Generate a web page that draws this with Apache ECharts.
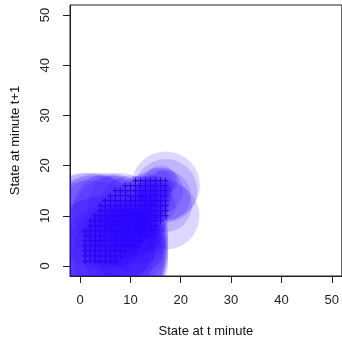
<!DOCTYPE html>
<html>
<head>
<meta charset="utf-8">
<script src="https://cdn.jsdelivr.net/npm/echarts@6/dist/echarts.min.js"></script>
<style>
html,body{margin:0;padding:0;background:#fff;}
#chart{width:342px;height:347px;}
</style>
</head>
<body>
<div id="chart"></div>
<script>
// Tick labels
const xTicks = [0, 10, 20, 30, 40, 50];
const yTicks = [0, 10, 20, 30, 40, 50];

// "+" markers: for each state at t (column), the range of states at t+1
const plusX    = [1, 2, 3, 4, 5, 6, 7, 8, 9, 10, 11, 12, 13, 14, 15, 16, 17];
const plusYMin = [1, 1, 1, 1, 1, 1, 1, 2, 3, 4, 4, 5, 6, 7, 8, 9, 10];
const plusYMax = [7, 9, 10, 12, 13, 14, 15, 15, 16, 16, 17, 17, 17, 17, 17, 17, 17];

// Circles (centre x, centre y, radius in data units)
const circleX = [1, 2, 4, 6, 8, 3, 2, 5, 7, 10, 12, 14,
                 7, 8, 9, 10, 11, 12, 13, 6, 5, 4, 9, 11, 13, 14, 15,
                 17, 17, 17, 16, 17, 15, 17, 16, 17,
                 15, 14, 16, 13, 16, 12];
const circleY = [7, 8, 9, 11, 12, 6, 4, 7, 9, 12, 13, 15,
                 1, 2, 3, 4, 5, 6, 7, 1, 2, 1, 5, 8, 10, 9, 12,
                 16, 15, 10, 15, 14, 16, 12, 17, 17,
                 15, 13, 12, 16, 14, 15];
const circleR = [11.5, 10.5, 9.5, 7.5, 6.5, 12, 13, 11, 9, 6, 5, 3,
                 10.5, 9.5, 8.5, 7.5, 6.5, 5.5, 4.5, 11, 12, 12.5, 8, 6, 4.5, 3.5, 2.5,
                 6.8, 6.3, 6.7, 4.5, 5, 3.5, 5.2, 3, 2.5,
                 3, 4, 3, 2.5, 2.5, 3];

const plusData = [];
plusX.forEach((x, i) => {
  for (let y = plusYMin[i]; y <= plusYMax[i]; y++) plusData.push([x, y]);
});
const circleData = circleX.map((x, i) => [x, circleY[i], circleR[i]]);

const font = 'Liberation Sans, Arial, sans-serif';
const fill = 'rgba(45,0,255,0.16)';

const chart = echarts.init(document.getElementById('chart'), null, {renderer: 'canvas'});
chart.setOption({
  animation: false,
  grid: {left: 70, top: 5, width: 276, height: 271, show: true,
         borderColor: '#222', borderWidth: 1, backgroundColor: 'transparent'},
  xAxis: {
    type: 'value', min: -2, max: 52,
    name: 'State at t minute', nameLocation: 'middle', nameGap: 49,
    nameTextStyle: {fontFamily: font, fontSize: 13, color: '#111'},
    axisLine: {show: true, onZero: false, lineStyle: {color: '#222', width: 1}},
    axisTick: {show: true, length: 7, inside: false, customValues: xTicks, lineStyle: {color: '#222'}},
    axisLabel: {customValues: xTicks, margin: 18, fontFamily: font, fontSize: 13, color: '#222'},
    splitLine: {show: false}
  },
  yAxis: {
    type: 'value', min: -2, max: 52,
    name: 'State at minute t+1', nameLocation: 'middle', nameGap: 48,
    nameTextStyle: {fontFamily: font, fontSize: 13, color: '#111'},
    axisLine: {show: true, onZero: false, lineStyle: {color: '#222', width: 1}},
    axisTick: {show: true, length: 7, inside: false, customValues: yTicks, lineStyle: {color: '#222'}},
    axisLabel: {customValues: yTicks, rotate: 90, margin: 18, fontFamily: font, fontSize: 13, color: '#222'},
    splitLine: {show: false}
  },
  series: [
    {
      type: 'scatter', z: 2, data: plusData,
      symbol: 'path://M0,2.5H6V3.5H0Z M2.5,0H3.5V6H2.5Z',
      symbolSize: 6,
      itemStyle: {color: '#000', opacity: 1},
      silent: true
    },
    {
      type: 'custom', z: 3, clip: true, data: circleData,
      renderItem: function (params, api) {
        const c = api.coord([api.value(0), api.value(1)]);
        const r = api.size([api.value(2), 0])[0];
        return {type: 'circle', shape: {cx: c[0], cy: c[1], r: r},
                style: {fill: fill}};
      },
      silent: true
    }
  ]
});
</script>
</body>
</html>
